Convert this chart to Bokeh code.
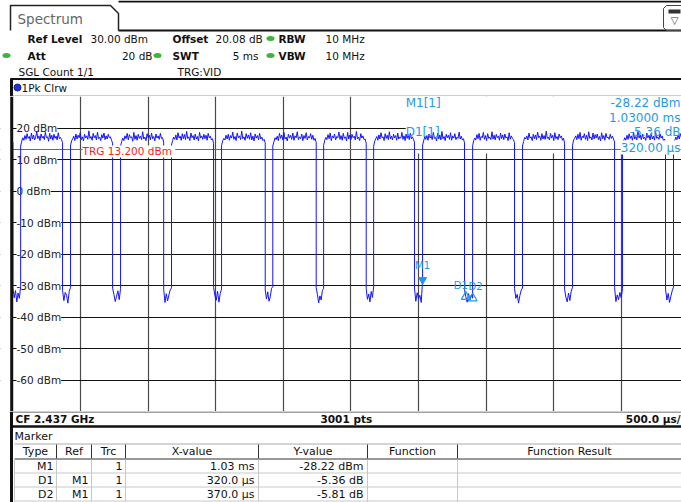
from bokeh.plotting import figure
from bokeh.models import Range1d, FixedTicker, Span, BoxAnnotation
from bokeh.layouts import column
from bokeh.core.properties import value
from bokeh.embed import file_html
from bokeh.resources import INLINE

FONT = value("DejaVu Sans")
W = 681

# ---------------- data ----------------
x_grid_ms = [-1.5, -1.0, -0.5, 0.0, 0.5, 1.0, 1.5, 2.0, 2.5]
y_grid_dbm = [20, 10, 0, -10, -20, -30, -40, -50, -60]
y_tick_labels = ["20 dBm", "10 dBm", "0 dBm", "-10 dBm", "-20 dBm",
                 "-30 dBm", "-40 dBm", "-50 dBm", "-60 dBm"]
x_view_ms = (-2.092, 2.945)
sweep_start_ms = -2.003
y_view_dbm = (-70, 30)
trg_dbm = 13.2

fall_ms = [-2.000, -1.633, -1.263, -0.885, -0.516, -0.134, 0.243, 0.613,
           0.970, 1.340, 1.710, 2.080, 2.450, 2.827]
rise_ms = [-1.943, -1.574, -1.204, -0.827, -0.457, -0.078, 0.298, 0.668,
           1.030, 1.400, 1.769, 2.139, 2.509, 2.886]

start_tops = [15.6, 15.2]
top_dbm = [
    [14.3, 15.8, 16.9, 16.1, 17.6, 16.4, 18.2, 16.7, 17.3, 15.9, 18.4, 16.5, 17.8, 16.2, 17.1, 18.9, 16.6, 17.5, 16.0, 18.1,
     16.8, 17.4, 16.3, 18.6, 16.9, 17.2, 15.8, 18.3, 16.5, 17.7, 16.1, 18.0, 16.7, 17.4, 16.2, 18.5, 16.6, 17.0, 16.3, 15.4],
    [14.5, 15.9, 16.6, 17.4, 16.0, 18.1, 16.5, 17.7, 16.9, 18.5, 16.3, 17.2, 15.9, 18.0, 16.8, 17.5, 16.4, 19.1, 16.7, 17.3,
     16.1, 18.3, 16.9, 17.6, 16.2, 18.7, 16.6, 17.1, 16.0, 17.9, 16.8, 18.4, 16.3, 17.5, 16.5, 18.0, 16.9, 17.2, 16.1, 15.2],
    [14.2, 15.7, 16.8, 16.0, 17.5, 16.6, 18.3, 16.2, 17.9, 16.9, 17.2, 15.8, 18.6, 16.4, 17.6, 16.1, 18.0, 16.7, 17.4, 16.3,
     18.8, 16.5, 17.1, 16.0, 18.2, 16.9, 17.7, 16.2, 18.4, 16.6, 17.3, 15.9, 18.1, 16.8, 17.5, 16.4, 18.3, 16.7, 16.9, 15.5],
    [14.6, 16.0, 17.1, 16.4, 17.8, 16.2, 18.5, 16.8, 17.4, 16.1, 18.2, 16.6, 17.9, 16.3, 18.9, 16.7, 17.2, 16.0, 18.4, 16.9,
     17.6, 16.2, 18.1, 16.5, 17.3, 15.9, 18.6, 16.8, 17.5, 16.4, 18.0, 16.6, 17.7, 16.1, 18.3, 16.9, 17.4, 16.2, 16.6, 15.1],
    [14.4, 15.9, 16.7, 16.2, 17.7, 16.5, 18.0, 16.1, 17.6, 16.8, 18.7, 16.4, 17.3, 16.0, 18.4, 16.9, 17.5, 16.3, 19.0, 16.6,
     17.2, 16.1, 18.2, 16.7, 17.8, 16.4, 18.5, 16.2, 17.4, 15.9, 18.1, 16.8, 17.6, 16.3, 18.3, 16.5, 17.1, 16.0, 16.4, 15.3],
    [14.3, 15.6, 16.9, 16.3, 17.4, 16.0, 18.3, 16.7, 17.8, 16.2, 18.6, 16.5, 17.1, 15.9, 18.0, 16.8, 17.7, 16.4, 18.4, 16.1,
     17.5, 16.9, 18.8, 16.3, 17.2, 16.6, 18.1, 16.0, 17.6, 16.7, 18.5, 16.2, 17.3, 16.8, 18.2, 16.4, 17.7, 16.1, 16.7, 15.4],
    [14.5, 16.1, 17.0, 16.3, 17.9, 16.6, 18.4, 16.0, 17.5, 16.8, 18.1, 16.2, 17.3, 16.9, 18.7, 16.4, 17.6, 16.1, 18.3, 16.7,
     17.2, 15.9, 18.6, 16.5, 17.8, 16.3, 18.0, 16.9, 17.4, 16.2, 18.9, 16.6, 17.1, 16.0, 18.2, 16.8, 17.5, 16.3, 16.5, 15.2],
    [14.2, 15.8, 16.6, 17.3, 16.1, 17.8, 16.5, 18.5, 16.9, 17.2, 16.0, 18.2, 16.7, 17.7, 16.3, 18.8, 16.6, 17.4, 16.2, 18.0,
     16.9, 17.6, 16.1, 18.4, 16.5, 17.1, 16.8, 18.6, 16.4, 17.5, 16.0, 18.1, 16.7, 17.9, 16.3, 18.3, 16.6, 17.2, 16.4, 15.5],
    [14.6, 15.9, 17.2, 16.4, 17.6, 16.1, 18.1, 16.8, 17.4, 16.3, 18.6, 16.7, 17.0, 15.9, 18.3, 16.5, 17.8, 16.2, 18.9, 16.6,
     17.3, 16.0, 18.0, 16.9, 17.7, 16.4, 18.5, 16.1, 17.5, 16.8, 18.2, 16.3, 17.1, 16.7, 18.7, 16.5, 17.4, 16.2, 16.6, 15.3],
    [14.4, 16.0, 16.8, 16.2, 17.9, 16.6, 18.3, 16.1, 17.3, 16.9, 18.6, 16.4, 17.6, 16.0, 18.2, 16.7, 17.1, 16.3, 18.8, 16.5,
     17.7, 16.2, 18.0, 16.9, 17.4, 16.1, 18.4, 16.6, 17.8, 16.3, 18.1, 16.8, 17.2, 16.0, 18.5, 16.4, 17.5, 16.7, 16.3, 15.4],
    [14.3, 15.7, 17.0, 16.5, 17.5, 16.2, 18.4, 16.8, 17.2, 16.0, 18.0, 16.6, 17.8, 16.3, 18.7, 16.9, 17.4, 16.1, 18.2, 16.5,
     17.6, 16.4, 19.0, 16.7, 17.1, 16.2, 18.3, 16.8, 17.7, 16.0, 18.5, 16.6, 17.3, 16.3, 18.1, 16.9, 17.5, 16.1, 16.8, 15.2],
    [14.5, 16.2, 16.7, 17.5, 16.3, 18.0, 16.6, 18.6, 16.1, 17.4, 16.9, 18.2, 16.4, 17.7, 16.0, 18.8, 16.7, 17.2, 16.2, 18.4,
     16.5, 17.9, 16.8, 18.1, 16.3, 17.3, 15.9, 18.5, 16.6, 17.6, 16.1, 18.3, 16.9, 17.1, 16.4, 18.0, 16.7, 17.4, 16.5, 15.6],
    [14.2, 15.9, 16.9, 16.1, 17.7, 16.4, 18.2, 16.7, 17.5, 16.0, 18.6, 16.5, 17.3, 16.2, 18.9, 16.8, 17.8, 16.3, 18.0, 16.6,
     17.1, 15.9, 18.4, 16.9, 17.6, 16.2, 18.3, 16.5, 17.4, 16.1, 18.7, 16.7, 17.2, 16.4, 18.1, 16.8, 17.5, 16.0, 16.5, 15.3],
]
end_tops = [14.4, 15.9, 17.1, 16.3, 17.8, 16.5, 18.2, 16.9]

dip_dbm = [
    [-30.8, -33.9, -31.6, -35.2, -32.4, -34.1, -30.2],
    [-31.5, -34.8, -32.2, -33.1, -35.6, -31.9, -30.6],
    [-30.9, -32.8, -35.1, -33.4, -31.7, -34.5, -31.0],
    [-31.2, -35.4, -32.6, -34.9, -33.0, -31.4, -30.7],
    [-30.6, -33.2, -34.7, -31.8, -35.3, -32.5, -31.1],
    [-31.4, -34.3, -32.0, -35.0, -33.6, -30.9, -30.4],
    [-30.7, -32.9, -35.5, -33.3, -34.6, -31.6, -30.9],
    [-31.0, -34.4, -32.7, -35.2, -31.9, -33.8, -30.5],
    [-30.8, -35.0, -32.3, -34.2, -33.1, -35.4, -28.22],
    [-31.3, -33.58, -35.3, -32.6, -34.7, -33.0, -34.03],
    [-30.9, -34.1, -32.8, -35.6, -33.2, -31.5, -30.8],
    [-31.1, -33.7, -35.2, -32.4, -34.8, -31.8, -30.6],
    [-30.6, -35.1, -33.0, -34.5, -32.2, -33.9, -30.9],
    [-31.2, -34.6, -32.5, -35.4, -33.4, -31.7, -30.5],
]

m1_ms, m1_dbm = 1.03, -28.22
delta_names = ["D1", "D2"]
delta_ms = [0.320, 0.370]
delta_db = [-5.36, -5.81]

tbl_type = ["M1", "D1", "D2"]
tbl_ref = ["", "M1", "M1"]
tbl_trc = ["1", "1", "1"]
tbl_x = ["1.03 ms", "320.0 \u00b5s", "370.0 \u00b5s"]
tbl_y = ["-28.22 dBm", "-5.36 dB", "-5.81 dB"]
tbl_headers = ["Type", "Ref", "Trc", "X-value", "Y-value", "Function", "Function Result"]

INFO = "#1e9ae6"
TRACE = "#1414ff"

# ---------------- header ----------------
hdr = figure(width=W, height=96, x_range=Range1d(0, 681), y_range=Range1d(96, 0),
             x_axis_location=None, y_axis_location=None, toolbar_location=None,
             output_backend="svg", min_border_left=0, min_border_right=0,
             min_border_top=0, min_border_bottom=0, outline_line_color=None)
hdr.xgrid.visible = False
hdr.ygrid.visible = False
hdr.line(x=[118, 681], y=[1, 1], line_color="#111", line_width=2)
hdr.line(x=[10, 10, 110, 118, 118], y=[30, 5, 5, 13, 30], line_color="#222", line_width=1.5)
hdr.line(x=[118, 681], y=[30, 30], line_color="#111", line_width=2)
hdr.text(x=[17], y=[18], text=["Spectrum"], text_font=FONT, text_font_size="13.5px",
         text_color="#666", text_baseline="middle")
# top right icon
hdr.line(x=[681, 666, 663, 663, 666, 681], y=[30, 30, 27, 8, 5, 5], line_color="#444", line_width=1)
hdr.quad(left=[668], right=[680], top=[9], bottom=[13], fill_color="#333", line_color=None)
hdr.text(x=[674], y=[20], text=["\u25bd"], text_font=FONT, text_font_size="10px",
         text_color="#333", text_baseline="middle", text_align="center")

bold_x = [27, 172, 278, 27, 172, 278]
bold_y = [38, 38, 38, 55, 55, 55]
bold_t = ["Ref Level", "Offset", "RBW", "Att", "SWT", "VBW"]
hdr.text(x=bold_x, y=bold_y, text=bold_t, text_font=FONT, text_font_size="10.5px",
         text_font_style="bold", text_color="#111", text_baseline="middle")
hdr.text(x=[90, 215, 325, 325], y=[38, 38, 38, 55], text=["30.00 dBm", "20.08 dB", "10 MHz", "10 MHz"],
         text_font=FONT, text_font_size="10.5px", text_color="#111", text_baseline="middle")
hdr.text(x=[152, 258], y=[55, 55], text=["20 dB", "5 ms"], text_font=FONT, text_font_size="10.5px",
         text_color="#111", text_baseline="middle", text_align="right")
hdr.ellipse(x=[270, 6, 157, 270], y=[38, 55, 55, 55], width=8, height=5, fill_color="#3db43d", line_color=None)
hdr.text(x=[18, 177], y=[71, 71], text=["SGL Count 1/1", "TRG:VID"], text_font=FONT,
         text_font_size="10.5px", text_color="#111", text_baseline="middle")
hdr.line(x=[10, 681], y=[78.5, 78.5], line_color="#111", line_width=2)
hdr.line(x=[11, 11], y=[78, 96], line_color="#111", line_width=3)
hdr.line(x=[12, 681], y=[95.5, 95.5], line_color="#999", line_width=1)
hdr.scatter(x=[17], y=[87], size=7, fill_color="#2233dd", line_color="#112299")
hdr.text(x=[21], y=[87.5], text=["1Pk Clrw"], text_font=FONT, text_font_size="10.5px",
         text_color="#111", text_baseline="middle")

# ---------------- main trace plot ----------------
p = figure(width=W, height=315, x_range=Range1d(*x_view_ms), y_range=Range1d(*y_view_dbm),
           x_axis_location=None, y_axis_location=None, toolbar_location=None,
           output_backend="svg", min_border_left=0, min_border_right=0,
           min_border_top=0, min_border_bottom=0, outline_line_color=None)
p.xgrid.ticker = FixedTicker(ticks=x_grid_ms)
p.ygrid.ticker = FixedTicker(ticks=y_grid_dbm)
p.xgrid.grid_line_color = "#4a4a4a"
p.xgrid.grid_line_width = 1.2
p.ygrid.grid_line_color = "#111"

# marker-info panel (white box over the grid)
info_left_ms, info_bottom_dbm = 0.905, 11.9
p.quad(left=[info_left_ms], right=[x_view_ms[1]], bottom=[info_bottom_dbm], top=[y_view_dbm[1]],
       fill_color="white", line_color=None)

p.text(x=[sweep_start_ms] * len(y_grid_dbm), y=y_grid_dbm, text=y_tick_labels, x_offset=4,
       text_font=FONT, text_font_size="10.5px", text_color="#222", text_baseline="middle",
       background_fill_color="white")

p.hspan(y=[trg_dbm], line_color="#ff2a2a", line_width=1)

tx, ty = [], []


def seg(t0, t1, vals):
    n = len(vals)
    for i, v in enumerate(vals):
        tx.append(t0 + (t1 - t0) * i / (n - 1))
        ty.append(v)


seg(sweep_start_ms, fall_ms[0], start_tops)
for k in range(len(fall_ms)):
    seg(fall_ms[k], rise_ms[k], dip_dbm[k])
    if k + 1 < len(fall_ms):
        seg(rise_ms[k], fall_ms[k + 1], top_dbm[k])
seg(rise_ms[-1], x_view_ms[1], end_tops)

p.line(x=tx, y=ty, line_color=TRACE, line_width=1)

p.text(x=[-1.5], y=[trg_dbm], text=["TRG  13.200 dBm"], x_offset=2, y_offset=2,
       text_font=FONT, text_font_size="10.5px", text_color="#ff2020", text_baseline="middle",
       background_fill_color="white")

# markers
d_x = [m1_ms + d for d in delta_ms]
d_y = [m1_dbm + d for d in delta_db]
p.scatter(x=[m1_ms], y=[m1_dbm], marker="inverted_triangle", size=8, fill_color=INFO, line_color=INFO)
p.scatter(x=d_x, y=d_y, marker="triangle", size=9, fill_color=None, line_color=INFO, line_width=1.2)
p.text(x=[m1_ms], y=[m1_dbm], text=["M1"], y_offset=-9, text_font=FONT, text_font_size="10px",
       text_color=INFO, text_align="center", text_baseline="bottom")
p.text(x=d_x, y=d_y, text=delta_names, x_offset=[-5, 3], y_offset=-6, text_font=FONT,
       text_font_size="10px", text_color=INFO, text_align="center", text_baseline="bottom")

# marker info texts
p.text(x=[info_left_ms, info_left_ms], y=[27.8, 18.6], text=["M1[1]", "D1[1]"], text_font=FONT,
       text_font_size="12px", text_color=INFO, text_baseline="middle")
p.text(x=[x_view_ms[1]] * 3, y=[27.8, 23.3, 18.6], x_offset=-1,
       text=["%.2f dBm" % m1_dbm, "%.5f ms" % m1_ms, "%.2f dB" % delta_db[0]],
       text_font=FONT, text_font_size="12px", text_color=INFO, text_baseline="middle",
       text_align="right")
p.text(x=[x_view_ms[1]], y=[13.8], x_offset=-1, text=["%.2f \u00b5s" % (delta_ms[0] * 1000)],
       text_font=FONT, text_font_size="12px", text_color=INFO, text_baseline="middle",
       text_align="right", background_fill_color="white")

# left frame border
border_ms = -2.009
p.add_layout(BoxAnnotation(right=border_ms, fill_color="white", fill_alpha=1.0, line_alpha=0))
p.add_layout(Span(location=border_ms, dimension="height", line_color="#111", line_width=3))

# ---------------- footer + marker table ----------------
tbl = figure(width=W, height=91, x_range=Range1d(0, 681), y_range=Range1d(502, 411),
             x_axis_location=None, y_axis_location=None, toolbar_location=None,
             output_backend="svg", min_border_left=0, min_border_right=0,
             min_border_top=0, min_border_bottom=0, outline_line_color=None)
tbl.xgrid.visible = False
tbl.ygrid.visible = False
tbl.line(x=[12, 681], y=[411.5, 411.5], line_color="#444", line_width=1)
tbl.line(x=[11, 11], y=[411, 502], line_color="#111", line_width=3)
tbl.line(x=[10, 681], y=[426, 426], line_color="#111", line_width=2.5)
tbl.text(x=[15, 320], y=[418.5, 418.5], text=["CF 2.437 GHz", "3001 pts"], text_font=FONT,
         text_font_size="10.5px", text_font_style="bold", text_color="#111", text_baseline="middle")
tbl.text(x=[680], y=[418.5], text=["500.0 \u00b5s/"], text_font=FONT, text_font_size="10.5px",
         text_font_style="bold", text_color="#111", text_baseline="middle", text_align="right")
tbl.text(x=[14], y=[436], text=["Marker"], text_font=FONT, text_font_size="11px",
         text_color="#111", text_baseline="middle")

col_edges = [14, 56, 91, 125, 258, 367, 457, 681]
row_lines = [443.5, 458.5, 472.5, 486.5, 500.5]
tbl.line(x=[14, 681], y=[row_lines[0]] * 2, line_color="#aaa", line_width=1)
tbl.segment(x0=col_edges[1:-1], y0=[444] * 6, x1=col_edges[1:-1], y1=[458] * 6,
            line_color="#333", line_width=1)
tbl.line(x=[14, 681], y=[row_lines[1]] * 2, line_color="#333", line_width=1)
tbl.segment(x0=[14] * 3, y0=row_lines[2:], x1=[681] * 3, y1=row_lines[2:],
            line_color="#c8c8c8", line_width=1)
tbl.segment(x0=col_edges[:-1], y0=[459] * 7, x1=col_edges[:-1], y1=[501] * 7,
            line_color="#c8c8c8", line_width=1)
hdr_cx = [(col_edges[i] + col_edges[i + 1]) / 2 for i in range(7)]
tbl.text(x=hdr_cx, y=[451] * 7, text=tbl_headers, text_font=FONT, text_font_size="11px",
         text_color="#111", text_baseline="middle", text_align="center")
row_y = [465.5, 479.5, 493.5]
for vals, xr in zip([tbl_type, tbl_ref, tbl_trc, tbl_x, tbl_y], [53, 88, 122, 254, 363]):
    tbl.text(x=[xr] * 3, y=row_y, text=vals, text_font=FONT, text_font_size="11px",
             text_color="#111", text_baseline="middle", text_align="right")

layout = column(hdr, p, tbl, spacing=0)
open("out.html", "w").write(file_html(layout, INLINE, "Spectrum"))
